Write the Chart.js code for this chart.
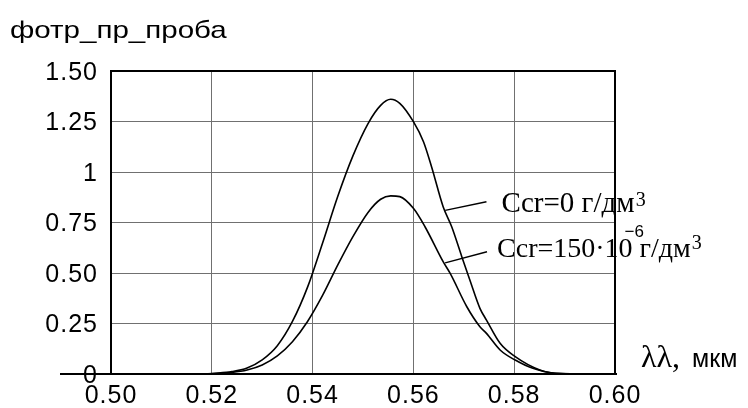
<!DOCTYPE html>
<html><head><meta charset="utf-8">
<script src="https://cdn.jsdelivr.net/npm/chart.js@4.4.0/dist/chart.umd.min.js"></script>
<style>html,body{margin:0;padding:0;background:#fff;}#wrap{width:748px;height:408px;}</style>
</head><body><div id="wrap"><canvas id="c" width="748" height="408"></canvas></div>
<script>
// wavelength (мкм) and values, Ccr = 0 г/дм3
const wlCcr0 = [0.500,0.510,0.518,0.521,0.524,0.527,0.530,0.533,0.536,0.539,0.542,0.545,0.548,0.551,0.5535,0.5555,0.5573,0.5600,0.5620,0.5636,0.5659,0.5676,0.5696,0.5712,0.5732,0.5745,0.5772,0.5802,0.5851,0.5891,0.595,0.600];
const valCcr0 = [0,0,0,0.004,0.012,0.03,0.07,0.14,0.26,0.43,0.65,0.88,1.08,1.24,1.33,1.36,1.34,1.249,1.150,1.026,0.828,0.729,0.581,0.465,0.325,0.267,0.152,0.086,0.020,0.002,0,0];
// Ccr = 150·10^-6 г/дм3
const wlCcr150 = [0.500,0.510,0.518,0.521,0.524,0.527,0.530,0.533,0.536,0.539,0.542,0.545,0.548,0.551,0.5535,0.5555,0.5573,0.5600,0.5623,0.5659,0.5673,0.5706,0.5732,0.5745,0.5772,0.5802,0.5837,0.5883,0.595,0.600];
const valCcr150 = [0,0,0,0.003,0.008,0.02,0.045,0.09,0.16,0.26,0.39,0.54,0.68,0.80,0.865,0.882,0.878,0.820,0.729,0.556,0.498,0.333,0.234,0.201,0.119,0.069,0.028,0.003,0,0];

const xTickLabels = ["0.50","0.52","0.54","0.56","0.58","0.60"];
const yTickLabels = ["0","0.25","0.50","0.75","1","1.25","1.50"];
const yTitle = "фотр_пр_проба";
const xTitleGreek = "λλ,";
const xTitleUnit = "мкм";
const label1 = {main:"Ccr=0 г/дм", sup:"3"};
const label2 = {main:"Ccr=150·10", sup1:"−6", rest:" г/дм", sup2:"3"};

const SANS = "'Liberation Sans', Arial, sans-serif";
const SERIF = "'Liberation Serif', 'Times New Roman', serif";

const framePlugin = {
  id:'frame',
  beforeDraw(chart){ chart.ctx.letterSpacing = '1px'; },
  afterDraw(chart){
    const {ctx, chartArea:a, scales:{x,y}} = chart;
    ctx.letterSpacing = '0px';
    ctx.save();
    ctx.strokeStyle='#000'; ctx.lineWidth=2;
    ctx.strokeRect(a.left,a.top,a.right-a.left,a.bottom-a.top);
    const y0 = y.getPixelForValue(0);
    ctx.beginPath(); ctx.moveTo(a.left-51,y0); ctx.lineTo(a.right+2,y0); ctx.stroke();

    ctx.fillStyle='#000'; ctx.textBaseline='alphabetic'; ctx.textAlign='left';
    // title (horizontally wide as in the reference)
    ctx.save();
    ctx.font = "24px " + SANS;
    ctx.translate(10,38); ctx.scale(1.23,1);
    ctx.fillText(yTitle, 0, 0);
    ctx.restore();
    // x axis title
    ctx.font = "32px " + SERIF;
    const gx = a.right + 26, gy = y0 - 7;
    ctx.fillText(xTitleGreek, gx, gy);
    const gw = ctx.measureText(xTitleGreek).width;
    ctx.font = "25px " + SANS;
    ctx.fillText(xTitleUnit, gx+gw+12, gy);

    // leader lines
    ctx.lineWidth=1.5;
    const seg=(x1,y1,x2,y2)=>{ctx.beginPath();ctx.moveTo(x.getPixelForValue(x1),y.getPixelForValue(y1));ctx.lineTo(x.getPixelForValue(x2),y.getPixelForValue(y2));ctx.stroke();};
    seg(0.5663,0.81,0.5745,0.853);
    seg(0.5663,0.55,0.5746,0.605);

    // annotation 1
    let px = x.getPixelForValue(0.5775), py = y.getPixelForValue(0.80);
    ctx.font = "29px " + SERIF;
    ctx.fillText(label1.main, px, py);
    let w = ctx.measureText(label1.main).width;
    ctx.font = "20px " + SERIF;
    ctx.fillText(label1.sup, px+w+1, py-6);

    // annotation 2
    px = x.getPixelForValue(0.5766); py = y.getPixelForValue(0.579);
    ctx.font = "28px " + SERIF;
    ctx.fillText(label2.main, px, py);
    w = ctx.measureText(label2.main).width;
    ctx.fillText(label2.rest, px+w, py);
    const w2 = ctx.measureText(label2.rest).width;
    ctx.font = "17px " + SANS;
    ctx.fillText(label2.sup1, px+w-8, py-20);
    ctx.font = "20px " + SERIF;
    ctx.fillText(label2.sup2, px+w+w2+1, py-8);
    ctx.restore();
  }
};

const toPts=(xs,ys)=>xs.map((v,i)=>({x:v,y:ys[i]}));

new Chart(document.getElementById('c'),{
  type:'scatter',
  data:{datasets:[
    {data:toPts(wlCcr0,valCcr0),showLine:true,borderColor:'#000',borderWidth:1.6,pointRadius:0,cubicInterpolationMode:'monotone',fill:false},
    {data:toPts(wlCcr150,valCcr150),showLine:true,borderColor:'#000',borderWidth:1.6,pointRadius:0,cubicInterpolationMode:'monotone',fill:false}
  ]},
  options:{
    responsive:false, devicePixelRatio:1, animation:false,
    layout:{padding:{top:71,right:133,left:0,bottom:0}},
    plugins:{legend:{display:false},tooltip:{enabled:false},title:{display:false}},
    scales:{
      x:{type:'linear',min:0.5,max:0.6,
        afterFit(s){s.height=34;},
        ticks:{stepSize:0.02,color:'#000',font:{family:SANS,size:25},padding:7,maxRotation:0,
          callback:(v,i)=>xTickLabels[i]},
        grid:{color:'#707070',lineWidth:1,drawTicks:false},
        border:{display:false}},
      y:{min:0,max:1.5,
        afterFit(s){s.width=111;},
        ticks:{stepSize:0.25,color:'#000',font:{family:SANS,size:25},padding:13,labelOffset:2,
          callback:(v,i)=>yTickLabels[i]},
        grid:{color:'#707070',lineWidth:1,drawTicks:false},
        border:{display:false}}
    }
  },
  plugins:[framePlugin]
});
</script></body></html>
